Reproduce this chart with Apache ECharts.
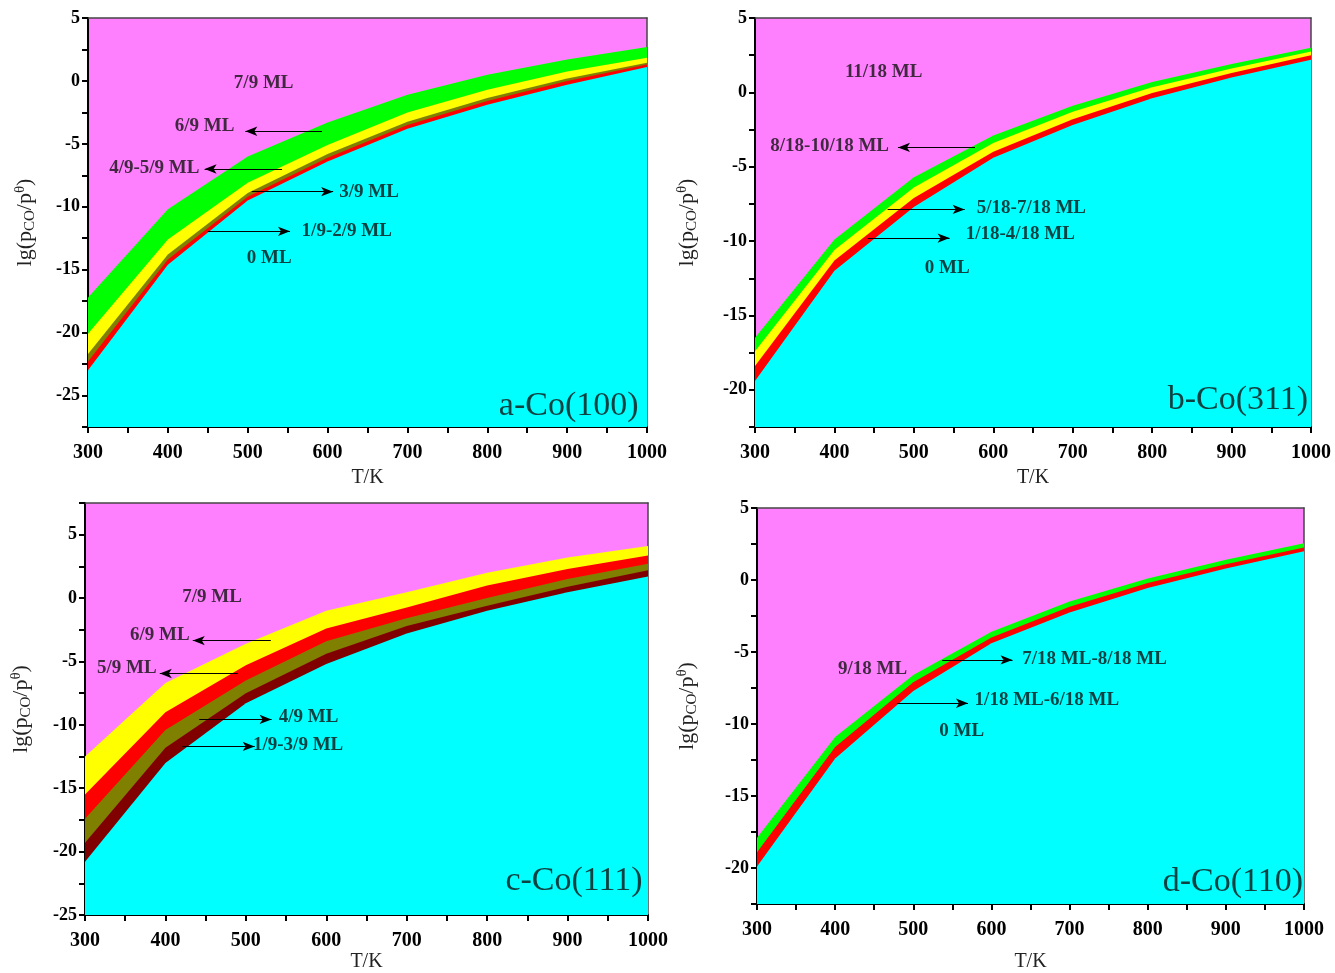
<!DOCTYPE html>
<html>
<head>
<meta charset="utf-8">
<script src="https://cdn.jsdelivr.net/npm/echarts@6/dist/echarts.min.js"></script>
<style>
  html, body { margin: 0; padding: 0; background: #fff; }
  #chart { width: 1335px; height: 973px; }
</style>
</head>
<body>
<div id="chart"></div>
<script>
const temps = [300, 400, 500, 600, 700, 800, 900, 1000];

// a-Co(100): upper edge of each coverage region, lg(pCO/p0)
const aGreen  = [-17.2, -10.2, -6.0, -3.3, -1.1, 0.5, 1.7, 2.7];
const aYellow = [-20.1, -12.6, -8.1, -5.1, -2.5, -0.7, 0.75, 1.85];
const aOlive  = [-21.7, -13.8, -8.9, -5.8, -3.25, -1.35, 0.2, 1.45];
const aRed    = [-22.3, -14.2, -9.2, -6.1, -3.5, -1.6, 0.0, 1.3];
const aCyan   = [-23.0, -14.6, -9.5, -6.4, -3.8, -1.9, -0.3, 1.1];

// b-Co(311)
const bGreen  = [-16.5, -9.9, -5.7, -2.9, -0.9, 0.7, 1.9, 3.0];
const bYellow = [-17.4, -10.6, -6.4, -3.4, -1.3, 0.35, 1.6, 2.75];
const bRed    = [-18.4, -11.3, -7.1, -4.0, -1.8, -0.05, 1.3, 2.5];
const bCyan   = [-19.4, -12.0, -7.7, -4.4, -2.2, -0.4, 1.0, 2.2];

// c-Co(111)
const cYellow = [-12.5, -6.7, -3.6, -1.0, 0.45, 2.0, 3.2, 4.1];
const cRed    = [-15.5, -9.0, -5.3, -2.4, -0.75, 1.0, 2.3, 3.35];
const cOlive  = [-17.4, -10.4, -6.5, -3.4, -1.6, 0.0, 1.5, 2.7];
const cMaroon = [-19.3, -11.8, -7.5, -4.4, -2.2, -0.6, 0.9, 2.2];
const cCyan   = [-20.8, -13.0, -8.3, -5.2, -2.8, -1.0, 0.45, 1.7];

// d-Co(110)
const dGreen  = [-17.9, -10.9, -6.6, -3.6, -1.5, 0.1, 1.4, 2.55];
const dRed    = [-18.9, -11.6, -7.1, -4.0, -1.85, -0.2, 1.1, 2.25];
const dCyan   = [-19.9, -12.4, -7.7, -4.4, -2.25, -0.55, 0.8, 2.0];

// region labels [T, lg p, text]
const aLabels = [[520, -0.2, '7/9 ML'], [446, -3.55, '6/9 ML'], [383, -6.9, '4/9-5/9 ML'],
                 [652, -8.85, '3/9 ML'], [624, -11.9, '1/9-2/9 ML'], [527, -14.1, '0 ML']];
const bLabels = [[462, 1.36, '11/18 ML'], [394, -3.6, '8/18-10/18 ML'], [648, -7.8, '5/18-7/18 ML'],
                 [634, -9.55, '1/18-4/18 ML'], [542, -11.8, '0 ML']];
const cLabels = [[458, 0.1, '7/9 ML'], [393, -2.9, '6/9 ML'], [352, -5.55, '5/9 ML'],
                 [578, -9.4, '4/9 ML'], [565, -11.6, '1/9-3/9 ML']];
const dLabels = [[448, -6.16, '9/18 ML'], [732, -5.5, '7/18 ML-8/18 ML'],
                 [671, -8.36, '1/18 ML-6/18 ML'], [562, -10.5, '0 ML']];

// arrows [T from, T to, lg p]
const aArrows = [[593, 497, -4.0], [543, 446, -7.0], [505, 607, -8.8], [450, 553, -11.95]];
const bArrows = [[577, 480, -3.7], [467, 564, -7.87], [442, 545, -9.8]];
const cArrows = [[531, 434, -3.35], [490, 393, -5.95], [442, 532, -9.57], [421, 511, -11.7]];
const dArrows = [[537, 627, -5.55], [479, 570, -8.56]];

const panelNames = ['a-Co(100)', 'b-Co(311)', 'c-Co(111)', 'd-Co(110)'];

const C = {
  magenta: '#ff80ff', cyan: '#00ffff', green: '#00ff00', yellow: '#ffff00',
  olive: '#808000', red: '#ff0000', maroon: '#800000'
};
const FONT = '"Liberation Serif", "Times New Roman", serif';

const panels = [
  { grid: { left: 88, top: 18, width: 559, height: 409 }, yMin: -27.5, yMax: 5, xGap: 41, yGap: 50,
    bands: [[aGreen, C.green], [aYellow, C.yellow], [aOlive, C.olive], [aRed, C.red], [aCyan, C.cyan]],
    labels: aLabels, arrows: aArrows, titleAt: [902, -25.8] },
  { grid: { left: 755, top: 18, width: 556, height: 409 }, yMin: -22.5, yMax: 5, xGap: 41, yGap: 55,
    bands: [[bGreen, C.green], [bYellow, C.yellow], [bRed, C.red], [bCyan, C.cyan]],
    labels: bLabels, arrows: bArrows, titleAt: [908, -20.7] },
  { grid: { left: 85, top: 503, width: 563, height: 412 }, yMin: -25, yMax: 7.5, xGap: 37, yGap: 51,
    bands: [[cYellow, C.yellow], [cRed, C.red], [cOlive, C.olive], [cMaroon, C.maroon], [cCyan, C.cyan]],
    labels: cLabels, arrows: cArrows, titleAt: [908, -22.3] },
  { grid: { left: 757, top: 508, width: 547, height: 402 }, yMin: -22.5, yMax: 5, xGap: 48, yGap: 57,
    bands: [[dGreen, C.green], [dRed, C.red], [dCyan, C.cyan]],
    labels: dLabels, arrows: dArrows, titleAt: [909, -21.0] }
];

const grids = [], xAxes = [], yAxes = [], xFrames = [], yFrames = [], series = [];

panels.forEach((p, i) => {
  grids.push(Object.assign({ show: true, backgroundColor: C.magenta, borderWidth: 0 }, p.grid));

  xAxes.push({
    gridIndex: i, type: 'value', min: 300, max: 1000, interval: 50,
    name: 'T/K', nameLocation: 'middle', nameGap: p.xGap,
    nameTextStyle: { fontFamily: FONT, fontSize: 20, color: '#222' },
    axisLine: { onZero: false, lineStyle: { color: '#000', width: 2 } },
    axisTick: { show: true, inside: false, length: 6, lineStyle: { color: '#000', width: 2 } },
    axisLabel: {
      fontFamily: FONT, fontWeight: 'bold', fontSize: 20, color: '#000', margin: 16,
      formatter: v => (v % 100 === 0 ? String(v) : '')
    },
    splitLine: { show: false }
  });
  yAxes.push({
    gridIndex: i, type: 'value', min: p.yMin, max: p.yMax, interval: 2.5,
    name: 'lg(p{sub|CO}/p{sup|θ})', nameLocation: 'middle', nameGap: p.yGap, nameRotate: 90,
    nameTextStyle: {
      fontFamily: FONT, fontSize: 22, color: '#222',
      rich: {
        sub: { fontFamily: FONT, fontSize: 15, color: '#222', verticalAlign: 'bottom', padding: [10, 0, 0, 0] },
        sup: { fontFamily: FONT, fontSize: 15, color: '#222', verticalAlign: 'top', padding: [0, 0, 10, 0] }
      }
    },
    axisLine: { onZero: false, lineStyle: { color: '#000', width: 2 } },
    axisTick: { show: true, inside: false, length: 6, lineStyle: { color: '#000', width: 2 } },
    axisLabel: {
      fontFamily: FONT, fontWeight: 'bold', fontSize: 18, color: '#000', margin: 8,
      formatter: v => (Math.abs(v % 5) < 1e-9 ? String(v) : '')
    },
    splitLine: { show: false }
  });

  // top and right frame lines
  xFrames.push({
    gridIndex: i, type: 'value', position: 'top', min: 300, max: 1000,
    axisLine: { show: true, onZero: false, lineStyle: { color: '#444', width: 1.5 } },
    axisTick: { show: false }, axisLabel: { show: false }, splitLine: { show: false }
  });
  yFrames.push({
    gridIndex: i, type: 'value', position: 'right', min: p.yMin, max: p.yMax,
    axisLine: { show: true, onZero: false, lineStyle: { color: '#444', width: 1.5 } },
    axisTick: { show: false }, axisLabel: { show: false }, splitLine: { show: false }
  });

  p.bands.forEach((b, k) => {
    series.push({
      type: 'line', xAxisIndex: i, yAxisIndex: i, z: 2 + k, silent: true,
      data: temps.map((t, j) => [t, b[0][j]]),
      symbol: 'none', showSymbol: false,
      lineStyle: { width: 0, opacity: 0 },
      areaStyle: { color: b[1], opacity: 1, origin: 'start' }
    });
  });

  const texts = p.labels.map(l => ({ value: [l[0], l[1]], name: l[2] }));
  texts.push({
    value: p.titleAt, name: panelNames[i],
    label: { fontSize: 34, fontWeight: 'normal', color: '#111' }
  });
  series.push({
    type: 'scatter', xAxisIndex: i, yAxisIndex: i, z: 20, silent: true,
    symbolSize: 1, itemStyle: { color: 'rgba(0,0,0,0)' },
    data: texts,
    label: {
      show: true, position: 'inside', formatter: '{b}',
      fontFamily: FONT, fontWeight: 'bold', fontSize: 19, color: '#111'
    },
    markLine: {
      silent: true, animation: false, z: 30,
      symbol: ['none', 'arrow'], symbolSize: [7, 12],
      lineStyle: { color: '#000', width: 1.2, type: 'solid' },
      label: { show: false },
      data: p.arrows.map(a => [{ coord: [a[0], a[2]] }, { coord: [a[1], a[2]] }])
    }
  });
});

const chart = echarts.init(document.getElementById('chart'));
chart.setOption({
  backgroundColor: '#fff',
  animation: false,
  grid: grids,
  xAxis: xAxes.concat(xFrames),
  yAxis: yAxes.concat(yFrames),
  series: series
});
</script>
</body>
</html>
